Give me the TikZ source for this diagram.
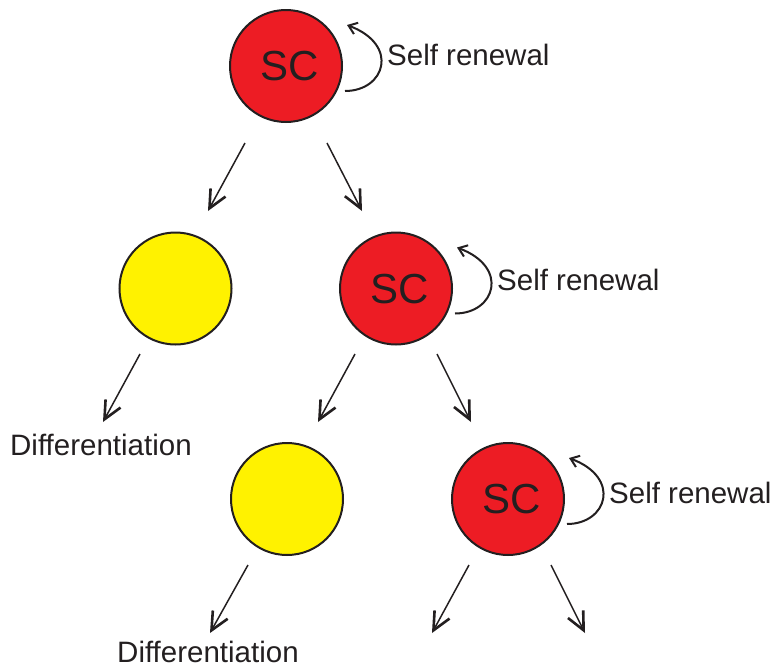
\documentclass[tikz,border=0pt]{standalone}
\usepackage{fontspec}
\setmainfont{Liberation Sans}
\usetikzlibrary{arrows.meta,calc}
\definecolor{scred}{HTML}{ED1C24}
\definecolor{dyellow}{HTML}{FFF200}
\definecolor{ink}{HTML}{231F20}
\begin{document}
\begin{tikzpicture}[x=1pt,y=-1pt,
  cell/.style={circle,draw=ink,line width=2pt,minimum size=112pt,inner sep=0pt},
  stem/.style={cell,fill=scred},
  diff/.style={cell,fill=dyellow},
  lbl/.style={font=\fontsize{29.5}{34}\selectfont,text=ink,inner sep=0pt,anchor=base west},
  sclbl/.style={font=\fontsize{42}{48}\selectfont,text=ink,inner sep=0pt},
  darrow/.style={draw=ink,line width=1.5pt,-{Straight Barb[length=18pt,width=17pt,line width=2.6pt]}},
  loop/.style={draw=ink,line width=2pt,-{Straight Barb[length=8pt,width=12pt,line width=2pt]}}]
\useasboundingbox (0,0) rectangle (774,667);
% cells
\node[stem] (sc1) at (286,66) {};
\node[sclbl] (t1) at (290,66) {SC};
\node[diff] (y1) at (175.5,288.5) {};
\node[stem] (sc2) at (396,288.5) {};
\node[sclbl] (t2) at (400,289) {SC};
\node[diff] (y2) at (287,499) {};
\node[stem] (sc3) at (508,499) {};
\node[sclbl] (t3) at (512,499) {SC};
% self renewal loops
\foreach \n/\cx/\cy in {sc1/286/66, sc2/396/288.5, sc3/508/499}{
  \coordinate (\n-ls) at (\cx+59,\cy+25);
  \coordinate (\n-le) at (\cx+61,\cy-41);
  \draw[loop] (\n-ls) .. controls (\cx+99,\cy+25) and (\cx+114,\cy-21) .. (\n-le);
}
\node[lbl] (r1) at (387,65) {Self renewal};
\node[lbl] (r2) at (497,290) {Self renewal};
\node[lbl] (r3) at (609,503) {Self renewal};
% division arrows
\coordinate (a1s) at (245,143); \coordinate (a1e) at (208,211);
\coordinate (a2s) at (327,143); \coordinate (a2e) at (362,211);
\coordinate (a3s) at (140,354); \coordinate (a3e) at (103,422);
\coordinate (a4s) at (355,354); \coordinate (a4e) at (318,422);
\coordinate (a5s) at (437,354); \coordinate (a5e) at (471,422);
\coordinate (a6s) at (248,565); \coordinate (a6e) at (210,633);
\coordinate (a7s) at (469,565); \coordinate (a7e) at (432,633);
\coordinate (a8s) at (551,565); \coordinate (a8e) at (585,633);
\foreach \i in {1,...,8}{\draw[darrow] (a\i s) -- (a\i e);}
\node[lbl] (d1) at (10,455) {Differentiation};
\node[lbl] (d2) at (117,662) {Differentiation};
\end{tikzpicture}
\end{document}
